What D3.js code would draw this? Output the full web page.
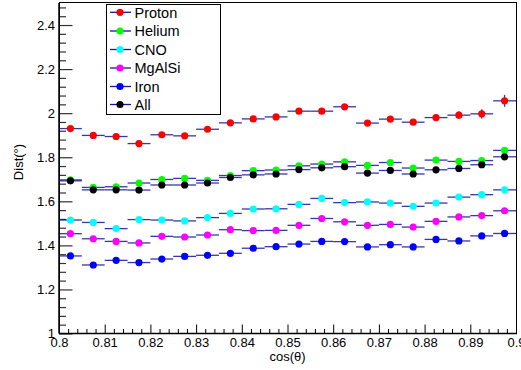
<!DOCTYPE html>
<html>
<head>
<meta charset="utf-8">
<script src="https://cdn.jsdelivr.net/npm/d3@7"></script>
<style>
  html, body { margin: 0; padding: 0; background: #fff; }
  svg { display: block; font-family: "Liberation Sans", Arial, Helvetica, sans-serif; }
</style>
</head>
<body>
<svg id="chart" width="521" height="370"></svg>
<script>
// ---- data ----
const binCenters = [0.8025,0.8075,0.8125,0.8175,0.8225,0.8275,0.8325,0.8375,0.8425,0.8475,
                    0.8525,0.8575,0.8625,0.8675,0.8725,0.8775,0.8825,0.8875,0.8925,0.8975];
const binHalfWidth = 0.0025;
const seriesNames = ["Proton","Helium","CNO","MgAlSi","Iron","All"];
const seriesColors = ["#ff0000","#00ff00","#00ffff","#ff00ff","#0000ff","#000000"];
const proton = [1.930,1.899,1.894,1.862,1.902,1.897,1.927,1.956,1.974,1.983,
                2.009,2.009,2.029,1.955,1.973,1.959,1.980,1.991,1.997,2.056];
const protonErr = [0.006,0.006,0.006,0.006,0.006,0.006,0.006,0.007,0.007,0.008,
                   0.008,0.009,0.010,0.010,0.012,0.013,0.015,0.018,0.021,0.027];
const helium = [1.697,1.663,1.666,1.683,1.699,1.704,1.695,1.717,1.739,1.742,
                1.761,1.769,1.779,1.763,1.776,1.751,1.787,1.781,1.785,1.831];
const heliumErr = [0.004,0.004,0.004,0.004,0.004,0.004,0.004,0.004,0.004,0.004,
                   0.004,0.005,0.005,0.005,0.005,0.005,0.006,0.006,0.007,0.010];
const cno = [1.515,1.504,1.476,1.517,1.515,1.511,1.526,1.545,1.565,1.566,
             1.586,1.613,1.594,1.597,1.592,1.577,1.592,1.619,1.630,1.652];
const mgalsi = [1.453,1.430,1.418,1.411,1.441,1.438,1.447,1.471,1.467,1.468,
                1.491,1.522,1.507,1.491,1.495,1.483,1.509,1.529,1.535,1.557];
const iron = [1.352,1.311,1.332,1.322,1.338,1.350,1.355,1.364,1.387,1.394,
              1.406,1.418,1.417,1.393,1.403,1.393,1.427,1.420,1.443,1.454];
const all = [1.693,1.652,1.652,1.651,1.674,1.674,1.683,1.708,1.720,1.724,
             1.744,1.752,1.757,1.728,1.740,1.724,1.743,1.749,1.766,1.802];
const smallErr = 0.003;
const xTicks = [0.8,0.81,0.82,0.83,0.84,0.85,0.86,0.87,0.88,0.89,0.9];
const yTicks = [1,1.2,1.4,1.6,1.8,2,2.2,2.4];
const xTitle = "cos(θ)";
const yTitle = "Dist(°)";

const seriesValues = [proton, helium, cno, mgalsi, iron, all];
const seriesErrors = [protonErr, heliumErr, null, null, null, null];

// ---- layout ----
const svg = d3.select("#chart");
const L = 59, R = 516, T = 3, B = 333.5;
const x = d3.scaleLinear().domain([0.8, 0.9]).range([L, R]);
const y = d3.scaleLinear().domain([1, 2.5]).range([B, T]);
const fmt = d => String(+d.toFixed(3));

// minor ticks
const xMinor = d3.range(0, 51).map(i => 0.8 + i * 0.002).filter(v => !xTicks.some(t => Math.abs(t - v) < 1e-9));
const yMinor = d3.range(0, 38).map(i => 1 + i * 0.04).filter(v => v <= 2.5 && !yTicks.some(t => Math.abs(t - v) < 1e-9));

// x axis
const gx = svg.append("g").attr("transform", `translate(0,${B})`);
gx.call(d3.axisBottom(x).tickValues(xTicks).tickSizeInner(-9).tickSizeOuter(0).tickPadding(4.5).tickFormat(fmt));
const gxm = svg.append("g").attr("transform", `translate(0,${B})`);
gxm.call(d3.axisBottom(x).tickValues(xMinor).tickSizeInner(-4.5).tickSizeOuter(0).tickFormat(""));
// y axis
const gy = svg.append("g").attr("transform", `translate(${L},0)`);
gy.call(d3.axisLeft(y).tickValues(yTicks).tickSizeInner(-13.5).tickSizeOuter(0).tickPadding(4).tickFormat(fmt));
const gym = svg.append("g").attr("transform", `translate(${L},0)`);
gym.call(d3.axisLeft(y).tickValues(yMinor).tickSizeInner(-7).tickSizeOuter(0).tickFormat(""));

[gx, gxm, gy, gym].forEach(g => {
  g.select(".domain").remove();
  g.selectAll("text").attr("font-size", 13).attr("fill", "#000")
   .attr("font-family", "Liberation Sans, Arial, sans-serif");
  g.selectAll("line").attr("stroke", "#000");
});
gy.selectAll("line").attr("stroke", "#333").attr("stroke-width", 1.2);
gym.selectAll("line").attr("stroke", "#333").attr("stroke-width", 1.2);

// frame
svg.append("rect").attr("x", L + 0.5).attr("y", T - 0.5).attr("width", R - L).attr("height", B - T + 0.5)
  .attr("fill", "none").attr("stroke", "#000").attr("stroke-width", 1);
svg.append("line").attr("x1", L).attr("x2", R + 1).attr("y1", B).attr("y2", B)
  .attr("stroke", "#000").attr("stroke-width", 1.5);
svg.append("line").attr("x1", L).attr("x2", L).attr("y1", T).attr("y2", B)
  .attr("stroke", "#000").attr("stroke-width", 1.5);

// titles
svg.append("text").attr("x", (L + R) / 2).attr("y", 361).attr("text-anchor", "middle")
  .attr("font-size", 13).text(xTitle);
svg.append("text").attr("transform", `translate(23,162) rotate(-90)`).attr("text-anchor", "middle")
  .attr("font-size", 13).text(yTitle);

// data
const errColor = "#14149a";
const plot = svg.append("g");
seriesValues.forEach((vals, si) => {
  const g = plot.append("g");
  vals.forEach((v, i) => {
    const cx = binCenters[i];
    g.append("line").attr("x1", x(cx - binHalfWidth)).attr("x2", x(cx + binHalfWidth))
      .attr("y1", y(v)).attr("y2", y(v)).attr("stroke", errColor).attr("stroke-width", 1.3).attr("stroke-opacity", 0.85);
    const e = seriesErrors[si] ? seriesErrors[si][i] : smallErr;
    g.append("line").attr("x1", x(cx)).attr("x2", x(cx))
      .attr("y1", y(v - e)).attr("y2", y(v + e)).attr("stroke", errColor).attr("stroke-width", 1.3).attr("stroke-opacity", 0.85);
  });
});
seriesValues.forEach((vals, si) => {
  plot.append("g").selectAll("circle").data(vals).join("circle")
    .attr("cx", (d, i) => x(binCenters[i])).attr("cy", d => y(d))
    .attr("r", 3.6).attr("fill", seriesColors[si]);
});

// legend
const lg = svg.append("g");
lg.append("rect").attr("x", 106.5).attr("y", 4.5).attr("width", 114).attr("height", 110)
  .attr("fill", "#fff").attr("stroke", "#000").attr("stroke-width", 1);
const legY = [12.3, 31, 49.5, 68, 86.5, 104.5];
seriesNames.forEach((name, i) => {
  const yy = legY[i];
  lg.append("line").attr("x1", 110).attr("x2", 131).attr("y1", yy).attr("y2", yy)
    .attr("stroke", errColor).attr("stroke-width", 1.3);
  lg.append("circle").attr("cx", 120).attr("cy", yy).attr("r", 3.6).attr("fill", seriesColors[i]);
  lg.append("text").attr("x", 134.5).attr("y", yy).attr("dy", "0.36em").attr("font-size", 14.5).text(name);
});
</script>
</body>
</html>
